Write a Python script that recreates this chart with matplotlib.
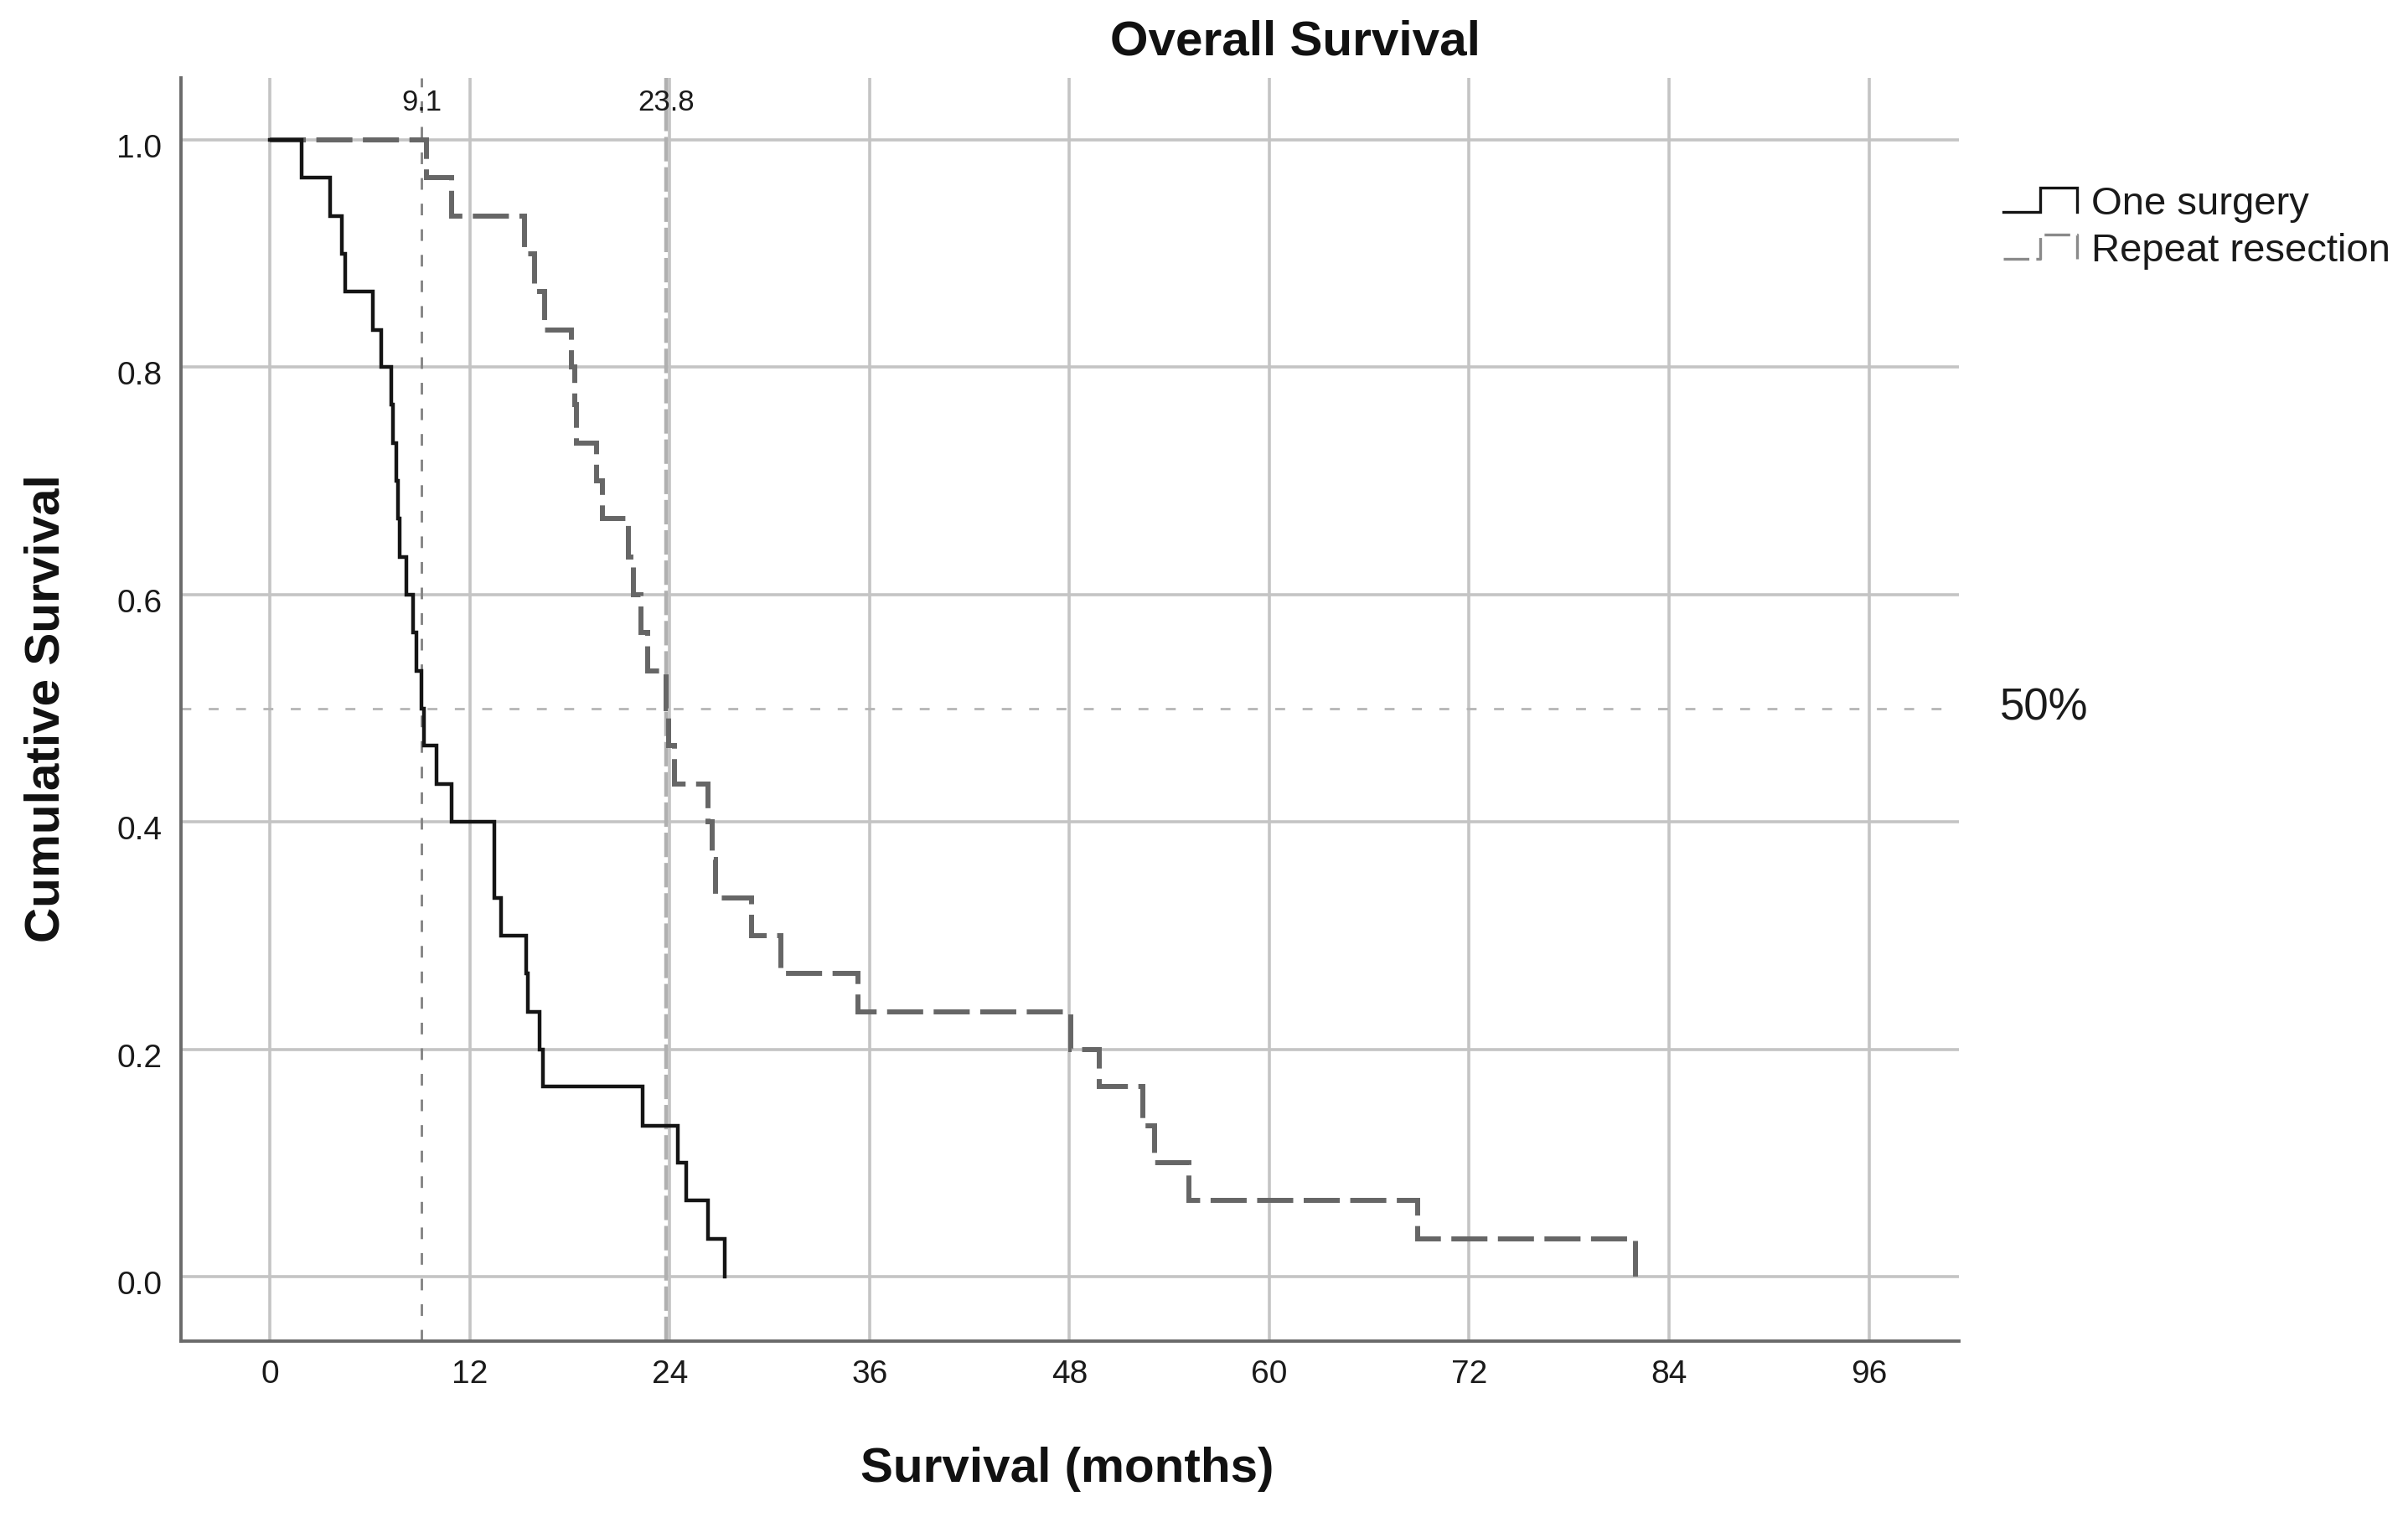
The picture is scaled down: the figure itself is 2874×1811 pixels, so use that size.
import matplotlib
matplotlib.use("Agg")
import matplotlib.pyplot as plt
from matplotlib.lines import Line2D
from matplotlib.legend_handler import HandlerBase
from matplotlib.ticker import FormatStrFormatter
import matplotlib.transforms as mtransforms

plt.rcParams['font.family'] = ['Liberation Sans', 'DejaVu Sans']
plt.rcParams['lines.scale_dashes'] = False

# ---------------- data ----------------
one_times = [0, 1.9, 3.6, 4.3, 4.5, 6.2, 6.7, 7.3, 7.4, 7.6, 7.7, 7.8, 8.2, 8.6, 8.8,
             9.1, 9.25, 10.0, 10.9, 13.5, 13.9, 15.4, 15.5, 16.2, 16.4, 22.4, 24.5,
             25.0, 26.3, 27.3]
one_surv = [1.0, 0.967, 0.933, 0.9, 0.867, 0.833, 0.8, 0.767, 0.733, 0.7, 0.667, 0.633,
            0.6, 0.567, 0.533, 0.5, 0.467, 0.433, 0.4, 0.333, 0.3, 0.267, 0.233, 0.2,
            0.167, 0.133, 0.1, 0.067, 0.033, 0.0]

rep_times = [0, 9.4, 10.9, 15.3, 15.9, 16.5, 18.1, 18.3, 18.4, 19.6, 19.95, 21.55, 21.85,
             22.3, 22.7, 23.8, 23.95, 24.3, 26.3, 26.55, 26.75, 28.9, 30.7, 35.3, 48.1,
             49.8, 52.4, 53.1, 55.2, 68.9, 82.0]
rep_surv = [1.0, 0.967, 0.933, 0.9, 0.867, 0.833, 0.8, 0.767, 0.733, 0.7, 0.667, 0.633,
            0.6, 0.567, 0.533, 0.5, 0.467, 0.433, 0.4, 0.367, 0.333, 0.3, 0.267, 0.233,
            0.2, 0.167, 0.133, 0.1, 0.067, 0.033, 0.0]

medians = [9.1, 23.8]
median_labels = ["9.1", "23.8"]
x_ticks = [0, 12, 24, 36, 48, 60, 72, 84, 96]
y_ticks = [0.0, 0.2, 0.4, 0.6, 0.8, 1.0]
series_labels = ["One surgery", "Repeat resection"]

# ---------------- figure ----------------
W, H = 2874, 1811
fig = plt.figure(figsize=(W / 100, H / 100), dpi=100)
ax = fig.add_axes([215.5 / W, 1 - 1600.7 / H, (2338 - 215.5) / W, (1600.7 - 92.7) / H])
ax.set_xlim(-5.36, 101.4)
ax.set_ylim(-0.0565, 1.0548)

for s in ['top', 'right']:
    ax.spines[s].set_visible(False)
for s in ['left', 'bottom']:
    ax.spines[s].set_color('#6a6a6a')
    ax.spines[s].set_linewidth(2.8)

ax.set_xticks(x_ticks)
ax.set_yticks(y_ticks)
ax.yaxis.set_major_formatter(FormatStrFormatter('%.1f'))
ax.tick_params(length=0, pad=16, labelsize=28, labelcolor='#1a1a1a')
ax.grid(True, color='#c4c4c4', lw=2.6)
ax.set_axisbelow(True)

# shift y tick labels slightly down as in reference
off = mtransforms.ScaledTranslation(0, -7 / 100, fig.dpi_scale_trans)
for lab in ax.get_yticklabels():
    lab.set_transform(lab.get_transform() + off)

# reference lines
ax.axvline(medians[0], color='#858585', lw=2.1, dashes=(10, 12), zorder=2)
ax.axvline(medians[1], color='#b0b0b0', lw=3.2, dashes=(21, 5), zorder=2)
ax.axhline(0.5, color='#b5b5b5', lw=2.0, dashes=(8.5, 15), zorder=2)

# curves
l1, = ax.plot(one_times, one_surv, drawstyle='steps-post', color='#141414', lw=3.2,
              solid_joinstyle='miter', label=series_labels[0], zorder=4)
l2, = ax.plot(rep_times, rep_surv, drawstyle='steps-post', color='#666666', lw=4.3,
              dashes=(31, 9), dash_joinstyle='miter', dash_capstyle='butt',
              label=series_labels[1], zorder=3)

# median labels
trans_lab = mtransforms.blended_transform_factory(ax.transData, ax.transAxes)
for m, t in zip(medians, median_labels):
    ax.text(m, 0.98, t, transform=trans_lab, ha='center', va='center', fontsize=25,
            color='#1a1a1a')

# 50% label
trans50 = mtransforms.blended_transform_factory(ax.transAxes, ax.transData)
ax.text(1.023, 0.5, "50%", transform=trans50, ha='left', va='center', fontsize=38,
        color='#1a1a1a')


class StepHandler(HandlerBase):
    def create_artists(self, legend, orig_handle, xdescent, ydescent, width, height,
                       fontsize, trans):
        x0 = -xdescent
        y0 = -ydescent
        low = y0 + 0.05 * height
        high = y0 + 1.0 * height
        xs = [x0, x0 + 0.5 * width, x0 + 0.5 * width, x0 + width, x0 + width]
        ys = [low, low, high, high, low]
        ln = Line2D(xs, ys, color=orig_handle.get_color(), lw=2.4,
                    linestyle=orig_handle.get_linestyle())
        if orig_handle is l2:
            ln.set_dashes((22, 6))
            ln.set_color('#8a8a8a')
        ln.set_solid_joinstyle('miter')
        ln.set_transform(trans)
        return [ln]


leg = fig.legend(handles=[l1, l2], labels=series_labels, loc='upper left',
                 bbox_to_anchor=(2391 / W, 1 - 222 / H), frameon=False, fontsize=34,
                 handlelength=1.87, handleheight=0.6, handletextpad=0.35,
                 labelspacing=0.25, borderpad=0, borderaxespad=0,
                 handler_map={l1: StepHandler(), l2: StepHandler()})
for t in leg.get_texts():
    t.set_color('#1a1a1a')

# titles / labels
fig.text(1546 / W, 1 - 51 / H, "Overall Survival", ha='center', va='center',
         fontsize=42, fontweight='bold', color='#111111')
fig.text(1274 / W, 1 - 1754 / H, "Survival (months)", ha='center', va='center',
         fontsize=42, fontweight='bold', color='#111111')
fig.text(56 / W, 1 - 846 / H, "Cumulative Survival", ha='center', va='center',
         rotation=90, fontsize=42, fontweight='bold', color='#111111')

fig.savefig("out.png", dpi=100, facecolor='white')
